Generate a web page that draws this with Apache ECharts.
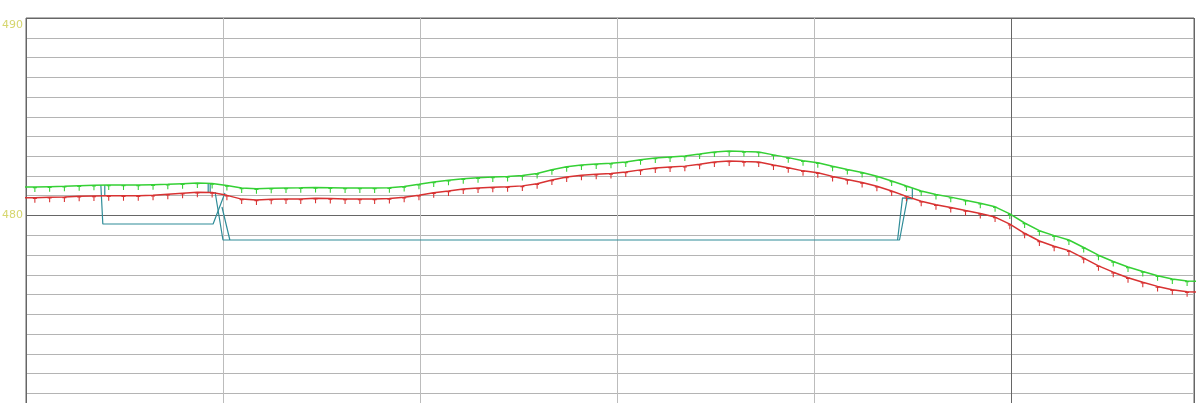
<!DOCTYPE html>
<html>
<head>
<meta charset="utf-8">
<style>
  html, body { margin: 0; padding: 0; background: #fff; }
  #chart { width: 1200px; height: 403px; }
</style>
<script src="https://cdn.jsdelivr.net/npm/echarts@6/dist/echarts.min.js"></script>
</head>
<body>
<div id="chart"></div>
<script>
// stations along the profile (m)
const stations = [-6, 9, 24, 39, 54, 69, 84, 99, 114, 129, 144, 159, 174, 189, 204, 219, 234, 249, 264, 279,
  294, 309, 324, 339, 354, 369, 384, 399, 414, 429, 444, 459, 474, 489, 504, 519, 534, 549, 564, 579,
  594, 609, 624, 639, 654, 669, 684, 699, 714, 729, 744, 759, 774, 789, 804, 819, 834, 849, 864, 879,
  894, 909, 924, 939, 954, 969, 984, 999, 1014, 1029, 1044, 1059, 1074, 1089, 1104, 1119, 1134, 1149, 1164, 1179, 1194];

// upper (green) level
const upper = [481.44, 481.44, 481.46, 481.48, 481.51, 481.53, 481.54, 481.54, 481.54, 481.56,
  481.58, 481.61, 481.64, 481.62, 481.52, 481.39, 481.35, 481.38, 481.39, 481.40,
  481.42, 481.41, 481.39, 481.39, 481.39, 481.41, 481.47, 481.58, 481.70, 481.79,
  481.86, 481.91, 481.95, 481.98, 482.02, 482.13, 482.32, 482.47, 482.56, 482.61,
  482.64, 482.71, 482.82, 482.91, 482.96, 483.01, 483.11, 483.22, 483.27, 483.24,
  483.22, 483.07, 482.93, 482.77, 482.67, 482.49, 482.33, 482.18, 481.99, 481.75,
  481.49, 481.24, 481.06, 480.93, 480.77, 480.62, 480.44, 480.08, 479.62, 479.23,
  478.98, 478.76, 478.38, 477.99, 477.67, 477.39, 477.16, 476.95, 476.78, 476.68, 476.66];

// lower (red) level
const lower = [480.90, 480.90, 480.92, 480.94, 480.97, 480.99, 481.00, 481.00, 481.00, 481.02,
  481.08, 481.13, 481.18, 481.16, 481.02, 480.83, 480.79, 480.82, 480.83, 480.84,
  480.87, 480.86, 480.84, 480.84, 480.84, 480.86, 480.92, 481.03, 481.15, 481.24,
  481.34, 481.39, 481.43, 481.46, 481.50, 481.61, 481.80, 481.95, 482.04, 482.09,
  482.13, 482.20, 482.31, 482.40, 482.45, 482.50, 482.60, 482.71, 482.76, 482.73,
  482.71, 482.56, 482.42, 482.26, 482.16, 481.98, 481.82, 481.67, 481.48, 481.24,
  480.97, 480.72, 480.54, 480.41, 480.25, 480.10, 479.92, 479.56, 479.10, 478.71,
  478.44, 478.22, 477.84, 477.45, 477.13, 476.85, 476.62, 476.41, 476.24, 476.14, 476.12];

// sections (teal outlines), null = break
const sectionA = [[76, 481.54], [78, 479.57], [190, 479.57], [202, 481.14], null,
  [80, 481.54], [80, 481.04], null,
  [185, 481.65], [185, 481.14], null,
  [187, 481.65], [187, 481.14]];
const sectionB = [[192, 481.19], [200, 478.76], [885, 478.76], [890, 480.89], [900, 480.84], [900, 481.39], null,
  [199, 480.43], [207, 478.76], [887, 478.76], [895, 480.89]];

const yTicks = [470, 480, 490];

const chart = echarts.init(document.getElementById("chart"));

const marker = "path://M0,0H6V1.5H3.8V6H2.2V1.5H0Z";

function levelSeries(name, values, color) {
  return {
    name: name,
    type: "line",
    data: stations.map((s, i) => [s, values[i]]),
    showAllSymbol: true,
    symbol: marker,
    symbolSize: [4, 5],
    symbolOffset: [0, 2.5],
    itemStyle: { color: color },
    lineStyle: { color: color, width: 1.5 },
    clip: true,
    z: 3,
  };
}

function sectionSeries(name, data) {
  return {
    name: name,
    type: "line",
    data: data,
    connectNulls: false,
    showSymbol: false,
    lineStyle: { color: "#2f8c98", width: 1.2 },
    clip: true,
    z: 2,
  };
}

chart.setOption({
  animation: false,
  backgroundColor: "#fff",
  grid: {
    left: 26,
    right: 6,
    top: 18,
    bottom: -10,
    containLabel: false,
    outerBoundsMode: "none",
    show: true,
    borderColor: "#666",
    borderWidth: 1,
  },
  xAxis: [
    {
      type: "value",
      min: 0,
      max: 1186,
      interval: 200,
      axisLine: { show: false },
      axisTick: { show: false },
      axisLabel: { show: false },
      splitLine: { lineStyle: { color: "#bcbcbc", width: 1 } },
    },
    {
      type: "value",
      min: 0,
      max: 1186,
      interval: 1000,
      axisLine: { show: false },
      axisTick: { show: false },
      axisLabel: { show: false },
      splitLine: { lineStyle: { color: "#666", width: 1 } },
    },
  ],
  yAxis: [
    {
      type: "value",
      position: "left",
      min: yTicks[0],
      max: yTicks[yTicks.length - 1],
      interval: 1,
      axisLine: { show: false },
      axisTick: { show: false },
      axisLabel: { show: false },
      splitLine: { lineStyle: { color: "#b4b4b4", width: 1 } },
    },
    {
      type: "value",
      position: "left",
      min: yTicks[0],
      max: yTicks[yTicks.length - 1],
      interval: 10,
      axisLine: { show: false },
      axisTick: { show: false },
      axisLabel: {
        margin: 3,
        color: "#d6d66e",
        fontSize: 11,
        fontFamily: "DejaVu Sans",
        formatter: (v) => (v === 490 ? "{t|" + v + "}" : "{m|" + v + "}"),
        rich: {
          t: { color: "#d6d66e", fontSize: 11, padding: [14, 0, 0, 0] },
          m: { color: "#d6d66e", fontSize: 11 },
        },
      },
      splitLine: { lineStyle: { color: "#666", width: 1 } },
    },
  ],
  series: [
    sectionSeries("sectionA", sectionA),
    sectionSeries("sectionB", sectionB),
    levelSeries("upper", upper, "#35d035"),
    levelSeries("lower", lower, "#d83232"),
  ],
});
</script>
</body>
</html>
